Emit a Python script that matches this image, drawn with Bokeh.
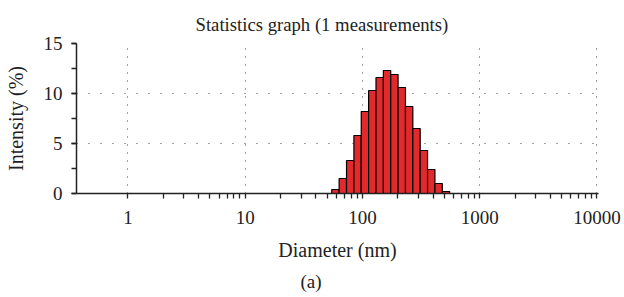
from bokeh.plotting import figure
from bokeh.models import (ColumnDataSource, FixedTicker, SingleIntervalTicker, Range1d,
                          NumeralTickFormatter, Title)
from bokeh.embed import file_html
from bokeh.resources import INLINE

# Size-class bin edges (nm), log-spaced classes of the DLS instrument
bin_edges = [54.7, 63.2, 73.1, 84.5, 97.6, 112.8, 130.4, 150.7, 174.1,
             201.2, 232.6, 268.8, 310.6, 358.9, 414.8, 479.5, 554.2]
# Intensity (%) per class
intensity = [0.4, 1.5, 3.3, 5.8, 8.2, 10.3, 11.6, 12.3, 11.9,
             10.6, 8.7, 6.5, 4.3, 2.4, 1.0, 0.2]

x_major_ticks = [1, 10, 100, 1000, 10000]
y_tick_interval = 5

title_text = "Statistics graph (1 measurements)"
x_label = "Diameter (nm)"
y_label = "Intensity (%)"
panel_label = "(a)"

FONT = "Liberation Serif"
INK = "#222222"

src = ColumnDataSource(dict(left=bin_edges[:-1], right=bin_edges[1:],
                            top=intensity, bottom=[0] * len(intensity)))

p = figure(width=624, height=297, x_axis_type="log",
           x_range=Range1d(0.364, 10300), y_range=Range1d(0, 15),
           output_backend="svg", toolbar_location=None,
           min_border_left=76, min_border_right=26,
           min_border_top=43, min_border_bottom=104)

p.quad(left="left", right="right", top="top", bottom="bottom", source=src,
       fill_color="#e2292b", line_color="black", line_width=1.2)

p.outline_line_color = None
p.background_fill_color = "white"
p.border_fill_color = "white"

# Title
p.title.text = title_text
p.title.align = "left"
p.title.offset = 119
p.title.text_font = FONT
p.title.text_font_size = "18.7px"
p.title.text_font_style = "normal"
p.title.text_color = INK
p.title.standoff = 18

# Axes
minor = [m * d for d in x_major_ticks[:-1] for m in range(2, 10)]
xa = p.xaxis[0]
xa.ticker = FixedTicker(ticks=x_major_ticks, minor_ticks=minor)
xa.formatter = NumeralTickFormatter(format="0")
ya = p.yaxis[0]
ya.ticker = SingleIntervalTicker(interval=y_tick_interval, num_minor_ticks=2)

for ax in (xa, ya):
    ax.axis_line_color = INK
    ax.axis_line_width = 1.5
    ax.major_tick_line_color = INK
    ax.minor_tick_line_color = INK
    ax.major_tick_line_width = 1.3
    ax.minor_tick_line_width = 1.3
    ax.major_tick_in = 0
    ax.major_tick_out = 5
    ax.minor_tick_in = 0
    ax.minor_tick_out = 5
    ax.major_label_text_font = FONT
    ax.major_label_text_font_size = "19px"
    ax.major_label_text_color = INK
    ax.axis_label_text_font = FONT
    ax.axis_label_text_font_size = "20px"
    ax.axis_label_text_font_style = "normal"
    ax.axis_label_text_color = INK

xa.axis_label = x_label
xa.major_label_standoff = 12
xa.axis_label_standoff = 12
ya.axis_label = y_label
ya.major_label_standoff = 9
ya.axis_label_standoff = 14

# Dotted grids at major ticks
p.xgrid.ticker = FixedTicker(ticks=x_major_ticks)
p.xgrid.grid_line_color = "#444444"
p.xgrid.grid_line_dash = "1 7"
p.xgrid.grid_line_width = 1
p.ygrid.ticker = ya.ticker
p.ygrid.grid_line_color = "#444444"
p.ygrid.grid_line_dash = "1 11"
p.ygrid.grid_line_width = 1

p.add_layout(Title(text=panel_label, align="left", offset=224,
                   text_font=FONT, text_font_size="19px",
                   text_font_style="normal", text_color=INK,
                   standoff=11), "below")

open("out.html", "w").write(file_html(p, INLINE))
